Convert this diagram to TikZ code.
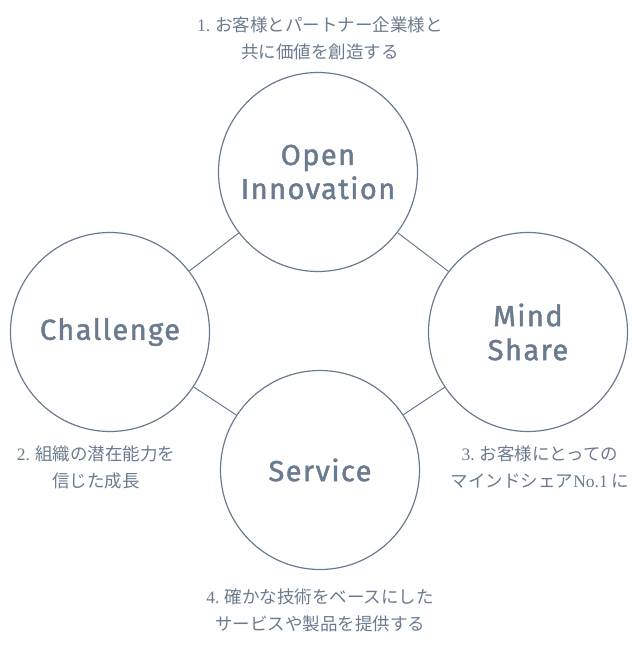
\documentclass[tikz,border=0pt]{standalone}
\usepackage{fontspec}
\setmainfont{Fira Sans}
\newfontfamily\heavy{Fira Sans}[FakeBold=1.6, LetterSpace=5]
\newfontfamily\cjk{Noto Sans CJK JP}
\newfontfamily\lat{Liberation Serif}
\definecolor{ink}{HTML}{6A7B8E}
\begin{document}
\begin{tikzpicture}[x=1pt,y=-1pt,
  ring/.style={circle, draw=ink, line width=1.2pt, minimum size=199pt, inner sep=0pt,
    text=ink, font=\heavy\fontsize{29}{34}\selectfont, align=center},
  link/.style={draw=ink, line width=1pt},
  caption/.style={text=ink, font=\cjk\fontsize{17.5}{27}\selectfont, align=center}]
\useasboundingbox (0,0) rectangle (640,650);
\node[ring] (open) at (318,172) {Open\\Innovation};
\node[ring] (chal) at (110,332) {Challenge};
\node[ring] (mind) at (528,332) {Mind\\Share};
\node[ring] (serv) at (320,470) {Service};
\draw[link] (open) -- (chal);
\draw[link] (open) -- (mind);
\draw[link] (chal) -- (serv);
\draw[link] (mind) -- (serv);
\node[caption] (c1) at (320,38) {{\lat 1.} お客様とパートナー企業様と\\共に価値を創造する};
\node[caption] (c2) at (96,467) {{\lat 2.} 組織の潜在能力を\\信じた成長};
\node[caption] (c3) at (540,467) {{\lat 3.} お客様にとっての\\マインドシェア{\lat No.1} に};
\node[caption] (c4) at (320,610) {{\lat 4.} 確かな技術をベースにした\\サービスや製品を提供する};
\end{tikzpicture}
\end{document}
